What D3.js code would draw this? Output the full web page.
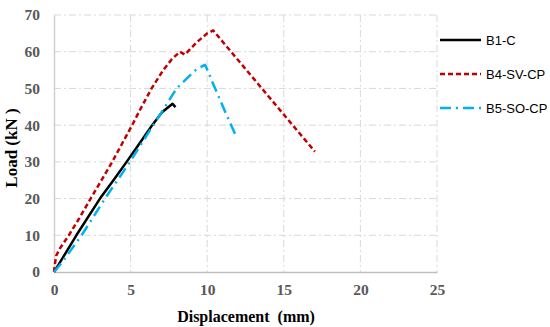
<!DOCTYPE html>
<html>
<head>
<meta charset="utf-8">
<script src="https://cdn.jsdelivr.net/npm/d3@7"></script>
<style>
  body { margin: 0; background: #fff; }
</style>
</head>
<body>
<div id="chart"></div>
<script>
// values: [displacement mm, load kN]
const b1c = [[0, 0], [0.3, 2], [1.46, 10], [3.0, 20], [3.88, 25], [4.74, 30], [5.58, 35], [6.41, 40], [7.05, 43.5], [7.74, 45.8], [7.93, 44.9]];
const b4svcp = [[0, 0], [0.05, 2], [0.15, 4.5], [0.4, 6.5], [0.97, 10], [1.7, 15], [2.39, 20], [3.1, 25], [3.8, 30], [4.45, 35], [5.1, 40], [5.72, 45], [6.37, 50], [7.13, 55], [7.7, 58], [8.22, 60], [8.54, 59.2], [9.3, 62.5], [10.0, 65], [10.39, 65.8], [17.03, 32.8]];
const b5socp = [[0, 0], [0.5, 2.5], [1.8, 10], [3.33, 20], [4.96, 30], [6.48, 40], [7.25, 45], [8.0, 50], [8.74, 53], [9.3, 55.2], [9.85, 56.4], [10.07, 54.6], [10.28, 52.3], [11.22, 43.2], [11.92, 36.7]];
const seriesNames = ["B1-C", "B4-SV-CP", "B5-SO-CP"];
const xTicks = [0, 5, 10, 15, 20, 25];
const yTicks = [0, 10, 20, 30, 40, 50, 60, 70];

const series = [
  { name: seriesNames[0], data: b1c, color: "#000000", dash: null, w: 2.5 },
  { name: seriesNames[1], data: b4svcp, color: "#c00000", dash: "5,3", w: 2.5 },
  { name: seriesNames[2], data: b5socp, color: "#00b0f0", dash: "11,5,2,5", w: 2.5 }
];

const width = 550, height = 327;
const margin = { top: 15, right: 113, bottom: 55, left: 54 };
const w = width - margin.left - margin.right;
const h = height - margin.top - margin.bottom;

const svg = d3.select("#chart").append("svg")
  .attr("width", width)
  .attr("height", height);

const g = svg.append("g")
  .attr("transform", "translate(" + margin.left + "," + margin.top + ")");

const x = d3.scaleLinear().domain([0, 25]).range([0, w]);
const y = d3.scaleLinear().domain([0, 70]).range([h, 0]);

// grid
g.append("g").selectAll("line").data(yTicks.slice(1)).enter().append("line")
  .attr("x1", 0).attr("x2", w)
  .attr("y1", d => y(d)).attr("y2", d => y(d))
  .attr("stroke", "#d9d9d9").attr("stroke-width", 1)
  .attr("stroke-dasharray", "7,3,2,3");
g.append("g").selectAll("line").data(xTicks.slice(1)).enter().append("line")
  .attr("x1", d => x(d)).attr("x2", d => x(d))
  .attr("y1", 0).attr("y2", h)
  .attr("stroke", "#d9d9d9").attr("stroke-width", 1)
  .attr("stroke-dasharray", "7,3,2,3");

// axes
const xAxis = d3.axisBottom(x).tickValues(xTicks).tickSize(0).tickPadding(12);
const yAxis = d3.axisLeft(y).tickValues(yTicks).tickSize(0).tickPadding(14);

const gx = g.append("g").attr("transform", "translate(0," + h + ")").call(xAxis);
const gy = g.append("g").call(yAxis);
gx.select(".domain").attr("stroke", "#bfbfbf").attr("stroke-width", 1.5);
gy.select(".domain").attr("stroke", "#d0d0d0").attr("stroke-width", 1.5);
[gx, gy].forEach(a => a.selectAll("text")
  .style("font-family", "'Liberation Serif', serif")
  .style("font-weight", "bold")
  .style("font-size", "15.5px")
  .attr("fill", "#595959"));

// lines
const line = d3.line().x(d => x(d[0])).y(d => y(d[1]));
series.forEach(s => {
  g.append("path").datum(s.data)
    .attr("d", line)
    .attr("fill", "none")
    .attr("stroke", s.color)
    .attr("stroke-width", s.w)
    .attr("stroke-linejoin", "round")
    .attr("stroke-dasharray", s.dash);
});

// axis titles
svg.append("text")
  .attr("x", 246)
  .attr("y", 322)
  .attr("text-anchor", "middle")
  .style("font-family", "'Liberation Serif', serif")
  .style("font-weight", "bold")
  .style("font-size", "16px")
  .style("white-space", "pre")
  .text("Displacement  (mm)");

svg.append("text")
  .attr("transform", "translate(17,148) rotate(-90)")
  .attr("text-anchor", "middle")
  .style("font-family", "'Liberation Serif', serif")
  .style("font-weight", "bold")
  .style("font-size", "17px")
  .style("white-space", "pre")
  .text("Load (kN )");

// legend
const legend = svg.append("g");
series.forEach((s, i) => {
  const ly = 40 + i * 34;
  legend.append("line")
    .attr("x1", 440).attr("x2", 481)
    .attr("y1", ly).attr("y2", ly)
    .attr("stroke", s.color)
    .attr("stroke-width", s.w)
    .attr("stroke-dasharray", s.dash);
  legend.append("text")
    .attr("x", 486).attr("y", ly)
    .attr("dy", "0.35em")
    .style("font-family", "'Liberation Sans', sans-serif")
    .style("font-size", "13px")
    .attr("fill", "#000")
    .text(s.name);
});
</script>
</body>
</html>
